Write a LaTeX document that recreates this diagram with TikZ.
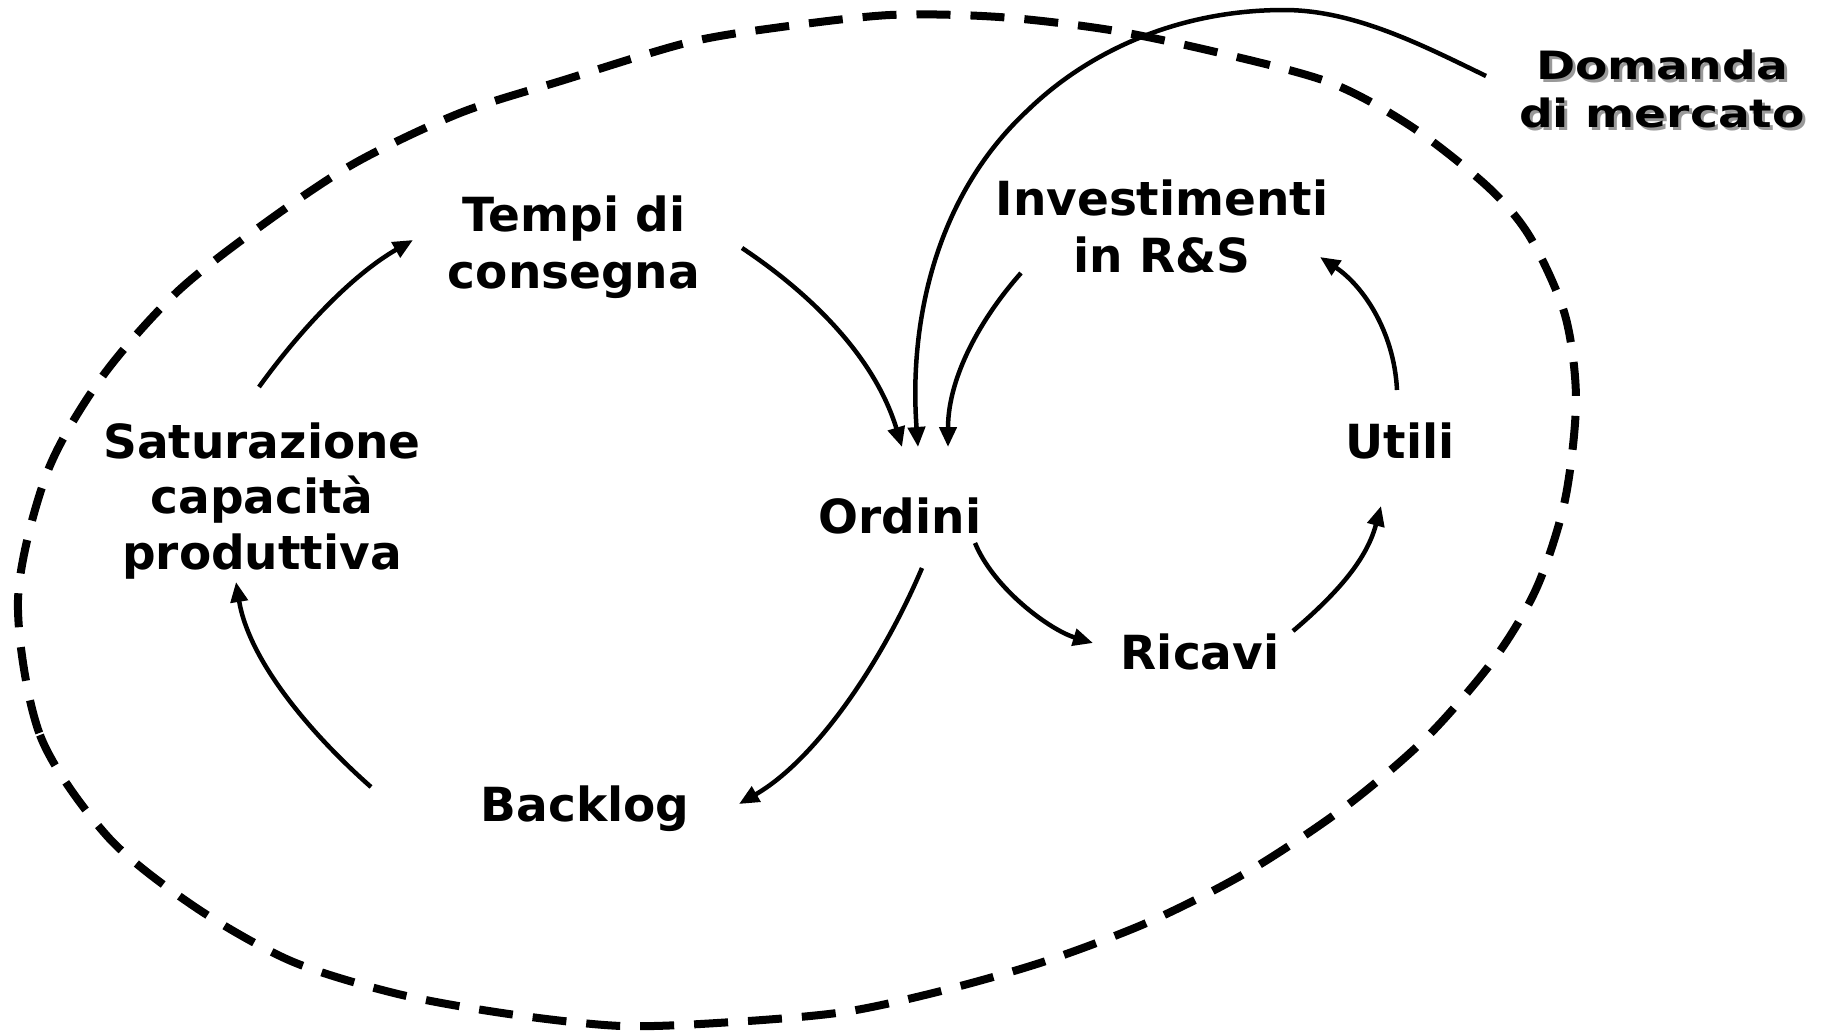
\documentclass[tikz,border=0pt]{standalone}
\usepackage{fontspec}
\setmainfont{DejaVu Sans}
\usetikzlibrary{arrows.meta}
\begin{document}
\begin{tikzpicture}[x=1pt,y=-1pt,
  lbl/.style={inner sep=0pt, align=center, anchor=base,
    font=\bfseries\fontsize{47}{57}\selectfont},
  wide/.style={lbl, font=\bfseries\fontsize{39}{48}\selectfont},
  link/.style={line width=4.5pt, -{Triangle[length=20pt,width=17pt]}},
  boundary/.style={line width=8pt, dash pattern=on 34pt off 20pt},
]
\useasboundingbox (0,0) rectangle (1825,1034);

% system boundary
\draw[boundary] plot[smooth cycle] coordinates {
  (18,600) (40,735) (108,837) (195,907) (291,961) (398,994) (509,1014)
  (622,1026) (733,1022) (844,1012) (941,991) (1046,961) (1151,921)
  (1249,871) (1345,807) (1427,737) (1495,658) (1537,587) (1565,500)
  (1576,400) (1565,315) (1530,237) (1488,187) (1412,127) (1331,83)
  (1220,53) (1110,30) (999,17) (890,15) (774,28) (686,43) (564,80)
  (460,113) (355,163) (265,223) (177,292) (102,377) (47,473)};

% variables (multi-line labels are anchored at the baseline of their last line)
\node[lbl] (tempi) at (574,288) {Tempi di\\consegna};
\node[lbl, font=\bfseries\fontsize{47}{55.5}\selectfont] (sat) at (262,569)
  {Saturazione\\capacità\\produttiva};
\node[lbl] (ordini) at (900,533) {Ordini};
\node[lbl] (invest) at (1162,272) {Investimenti\\in R\&S};
\node[lbl] (utili) at (1400,458) {Utili};
\node[lbl] (ricavi) at (1200,669) {Ricavi};
\node[lbl] (backlog) at (585,821) {Backlog};
% exogenous variable, set with a soft drop shadow
\node[wide, text=black!40] (domandashadow) at (1665,130)
  {\scalebox{1.21}[1]{Domanda}\\\scalebox{1.21}[1]{di mercato}};
\node[wide] (domanda) at (1662,127)
  {\scalebox{1.21}[1]{Domanda}\\\scalebox{1.21}[1]{di mercato}};

% causal links
\draw[link] ([shift={(-3,-182)}]sat.base)
  .. controls (300,330) and (352,275) .. ([shift={(-161,-48)}]tempi.base);
\draw[link] ([shift={(168,-40)}]tempi.base)
  .. controls (817,298) and (876,361) .. ([shift={(2,-86)}]ordini.base);
\draw[link] ([shift={(-176,-51)}]domanda.base)
  .. controls (1422,45) and (1354,10) .. (1284,10)
  .. controls (1180,10) and (1090,50) .. (1028,110)
  .. controls (933,198) and (909,327) .. ([shift={(18,-86)}]ordini.base);
\draw[link] ([shift={(-141,1)}]invest.base)
  .. controls (981,318) and (948,377) .. ([shift={(48,-86)}]ordini.base);
\draw[link] ([shift={(75,10)}]ordini.base)
  .. controls (994,589) and (1050,630) .. ([shift={(-107,-26)}]ricavi.base);
\draw[link] ([shift={(93,-38)}]ricavi.base)
  .. controls (1346,586) and (1368,554) .. ([shift={(-19,48)}]utili.base);
\draw[link] ([shift={(-3,-68)}]utili.base)
  .. controls (1394,330) and (1362,285) .. ([shift={(158,-15)}]invest.base);
\draw[link] ([shift={(22,35)}]ordini.base)
  .. controls (883,660) and (817,759) .. ([shift={(154,-17)}]backlog.base);
\draw[link] ([shift={(-214,-34)}]backlog.base)
  .. controls (311,734) and (249,661) .. ([shift={(-26,13)}]sat.base);
\end{tikzpicture}
\end{document}
